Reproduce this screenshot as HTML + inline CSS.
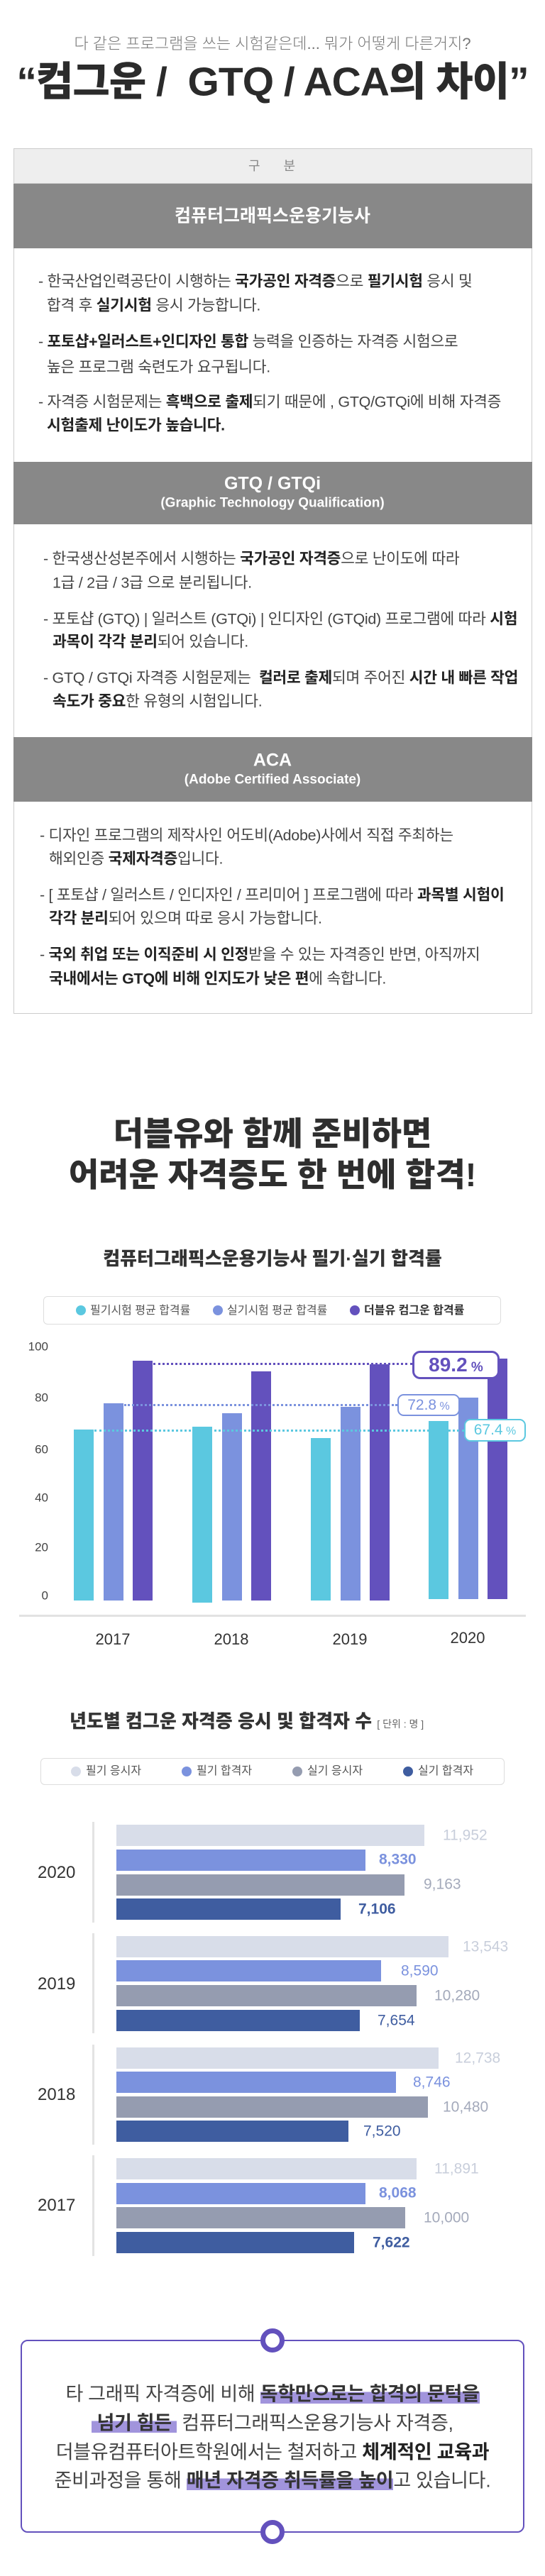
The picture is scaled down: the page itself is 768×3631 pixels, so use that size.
<!DOCTYPE html>
<html><head><meta charset="utf-8">
<style>
*{margin:0;padding:0;box-sizing:border-box}
body{width:768px;height:3631px;position:relative;background:#fff;font-family:"Liberation Sans","Noto Sans CJK KR",sans-serif;color:#333;overflow:hidden}
.a{position:absolute}
.t{position:absolute;white-space:nowrap;line-height:1;transform:translateY(-50%)}
.c{left:0;width:768px;text-align:center}
.b{font-weight:700;color:#222}
.bt{font-size:21.5px;color:#444;letter-spacing:-0.3px}
.n{font-family:"Liberation Sans Narrow","Liberation Sans","Noto Sans CJK KR",sans-serif}
.row{position:absolute;left:19px;width:731px;background:#888;color:#fff;text-align:center}
.bar{position:absolute}
.dot{position:absolute;width:14px;height:14px;border-radius:50%}
.hl{background:linear-gradient(to bottom,transparent 40%,#a194dc 40%,#a194dc 95%,transparent 95%)}
</style></head><body>

<div class="t c" style="top:62px;font-size:22px;color:#777;font-weight:300">다 같은 프로그램을 쓰는 시험같은데... 뭐가 어떻게 다른거지?</div>
<div class="t c" style="top:116px;font-size:57px;font-weight:900;color:#2b2b2b;letter-spacing:-1px;white-space:pre">“컴그운 /  GTQ / ACA의 차이”</div>

<!-- table -->
<div class="a" style="left:19px;top:209px;width:731px;height:1220px;border:1px solid #ccc;background:#fff"></div>
<div class="a" style="left:20px;top:210px;width:729px;height:49px;background:#eee;border-bottom:1px solid #ccc"></div>
<div class="t" style="top:234px;left:350px;font-size:18px;color:#888;word-spacing:28px">구 분</div>

<div class="row" style="top:259px;height:91px"></div>
<div class="t c" style="top:305px;font-size:25px;font-weight:700;color:#fff">컴퓨터그래픽스운용기능사</div>

<div class="t bt" style="left:54px;top:397px">- 한국산업인력공단이 시행하는 <b class="b">국가공인 자격증</b>으로 <b class="b">필기시험</b> 응시 및</div>
<div class="t bt" style="left:66px;top:431px">합격 후 <b class="b">실기시험</b> 응시 가능합니다.</div>
<div class="t bt" style="left:54px;top:482px">- <b class="b">포토샵+일러스트+인디자인 통합</b> 능력을 인증하는 자격증 시험으로</div>
<div class="t bt" style="left:66px;top:518px">높은 프로그램 숙련도가 요구됩니다.</div>
<div class="t bt" style="left:54px;top:567px">- 자격증 시험문제는 <b class="b">흑백으로 출제</b>되기 때문에 , GTQ/GTQi에 비해 자격증</div>
<div class="t bt" style="left:66px;top:600px"><b class="b">시험출제 난이도가 높습니다.</b></div>

<div class="row" style="top:651px;height:88px"></div>
<div class="t c" style="top:682px;font-size:25px;font-weight:700;color:#fff">GTQ / GTQi</div>
<div class="t c" style="top:709px;font-size:19px;font-weight:700;color:#fff">(Graphic Technology Qualification)</div>

<div class="t bt" style="left:61px;top:788px">- 한국생산성본주에서 시행하는 <b class="b">국가공인 자격증</b>으로 난이도에 따라</div>
<div class="t bt" style="left:74px;top:822px">1급 / 2급 / 3급 으로 분리됩니다.</div>
<div class="t bt" style="left:61px;top:873px">- 포토샵 (GTQ) | 일러스트 (GTQi) | 인디자인 (GTQid) 프로그램에 따라 <b class="b">시험</b></div>
<div class="t bt" style="left:74px;top:905px"><b class="b">과목이 각각 분리</b>되어 있습니다.</div>
<div class="t bt" style="left:61px;top:956px">- GTQ / GTQi 자격증 시험문제는 &nbsp;<b class="b">컬러로 출제</b>되며 주어진 <b class="b">시간 내 빠른 작업</b></div>
<div class="t bt" style="left:74px;top:989px"><b class="b">속도가 중요</b>한 유형의 시험입니다.</div>

<div class="row" style="top:1039px;height:91px"></div>
<div class="t c" style="top:1072px;font-size:25px;font-weight:700;color:#fff">ACA</div>
<div class="t c" style="top:1099px;font-size:19px;font-weight:700;color:#fff">(Adobe Certified Associate)</div>

<div class="t bt" style="left:56px;top:1178px">- 디자인 프로그램의 제작사인 어도비(Adobe)사에서 직접 주최하는</div>
<div class="t bt" style="left:69px;top:1211px">해외인증 <b class="b">국제자격증</b>입니다.</div>
<div class="t bt" style="left:56px;top:1262px">- [ 포토샵 / 일러스트 / 인디자인 / 프리미어 ] 프로그램에 따라 <b class="b">과목별 시험이</b></div>
<div class="t bt" style="left:69px;top:1295px"><b class="b">각각 분리</b>되어 있으며 따로 응시 가능합니다.</div>
<div class="t bt" style="left:56px;top:1346px">- <b class="b">국외 취업 또는 이직준비 시 인정</b>받을 수 있는 자격증인 반면, 아직까지</div>
<div class="t bt" style="left:69px;top:1380px"><b class="b">국내에서는 GTQ에 비해 인지도가 낮은 편</b>에 속합니다.</div>

<!-- headline -->
<div class="t c" style="top:1598px;font-size:46px;font-weight:900;color:#2e2e2e">더블유와 함께 준비하면</div>
<div class="t c" style="top:1656px;font-size:46px;font-weight:900;color:#2e2e2e">어려운 자격증도 한 번에 합격!</div>

<!-- chart 1 -->
<div class="t c" style="top:1774px;font-size:26px;font-weight:900;color:#333">컴퓨터그래픽스운용기능사 필기·실기 합격률</div>
<div class="a" style="left:61px;top:1827px;width:645px;height:40px;border:1px solid #ddd;border-radius:6px"></div>
<div class="dot" style="left:107px;top:1840px;background:#5bc8e0"></div>
<div class="t" style="left:127px;top:1848px;font-size:16px;color:#555">필기시험 평균 합격률</div>
<div class="dot" style="left:300px;top:1840px;background:#7b92de"></div>
<div class="t" style="left:320px;top:1848px;font-size:16px;color:#555">실기시험 평균 합격률</div>
<div class="dot" style="left:493px;top:1840px;background:#6351bd"></div>
<div class="t" style="left:513px;top:1848px;font-size:16px;font-weight:700;color:#333">더블유 컴그운 합격률</div>

<div class="t n" style="left:30px;width:38px;text-align:right;top:1898px;font-size:17px;color:#444">100</div>
<div class="t n" style="left:30px;width:38px;text-align:right;top:1970px;font-size:17px;color:#444">80</div>
<div class="t n" style="left:30px;width:38px;text-align:right;top:2043px;font-size:17px;color:#444">60</div>
<div class="t n" style="left:30px;width:38px;text-align:right;top:2111px;font-size:17px;color:#444">40</div>
<div class="t n" style="left:30px;width:38px;text-align:right;top:2181px;font-size:17px;color:#444">20</div>
<div class="t n" style="left:30px;width:38px;text-align:right;top:2249px;font-size:17px;color:#444">0</div>

<div class="bar" style="left:104px;top:2015px;width:28px;height:241px;background:#5bc8e0"></div>
<div class="bar" style="left:146px;top:1978px;width:28px;height:278px;background:#7b92de"></div>
<div class="bar" style="left:187px;top:1918px;width:28px;height:338px;background:#6351bd"></div>
<div class="bar" style="left:271px;top:2011px;width:28px;height:248px;background:#5bc8e0"></div>
<div class="bar" style="left:313px;top:1992px;width:28px;height:264px;background:#7b92de"></div>
<div class="bar" style="left:354px;top:1933px;width:28px;height:323px;background:#6351bd"></div>
<div class="bar" style="left:438px;top:2027px;width:28px;height:229px;background:#5bc8e0"></div>
<div class="bar" style="left:480px;top:1983px;width:28px;height:273px;background:#7b92de"></div>
<div class="bar" style="left:521px;top:1923px;width:28px;height:333px;background:#6351bd"></div>
<div class="bar" style="left:604px;top:2003px;width:28px;height:251px;background:#5bc8e0"></div>
<div class="bar" style="left:646px;top:1970px;width:28px;height:284px;background:#7b92de"></div>
<div class="bar" style="left:687px;top:1915px;width:28px;height:339px;background:#6351bd"></div>

<div class="a" style="left:216px;top:1921px;width:365px;border-top:3px dotted #6351bd"></div>
<div class="a" style="left:175px;top:1979px;width:385px;border-top:3px dotted #7b92de"></div>
<div class="a" style="left:133px;top:2015px;width:521px;border-top:3px dotted #5bc8e0"></div>

<div class="a" style="left:581px;top:1904px;width:123px;height:40px;border:3px solid #6351bd;border-radius:11px;background:#fff;text-align:center;line-height:34px;color:#6351bd;font-weight:700;font-size:28px" ><span class="n">89.2</span><span style="font-size:19px"> %</span></div>
<div class="a" style="left:560px;top:1965px;width:88px;height:31px;border:2px solid #7b92de;border-radius:9px;background:#fff;text-align:center;line-height:27px;color:#7b92de;font-size:21px"><span class="n">72.8</span><span style="font-size:16px"> %</span></div>
<div class="a" style="left:654px;top:2000px;width:87px;height:32px;border:2px solid #5bc8e0;border-radius:9px;background:#fff;text-align:center;line-height:28px;color:#5bc8e0;font-size:21px"><span class="n">67.4</span><span style="font-size:16px"> %</span></div>

<div class="a" style="left:27px;top:2276px;width:714px;height:3px;background:#e2e2e2"></div>
<div class="t n" style="left:119px;width:80px;text-align:center;top:2311px;font-size:22px;color:#333">2017</div>
<div class="t n" style="left:286px;width:80px;text-align:center;top:2311px;font-size:22px;color:#333">2018</div>
<div class="t n" style="left:453px;width:80px;text-align:center;top:2311px;font-size:22px;color:#333">2019</div>
<div class="t n" style="left:619px;width:80px;text-align:center;top:2309px;font-size:22px;color:#333">2020</div>

<!-- chart 2 -->
<div class="t" style="left:98px;top:2426px;font-size:26px;font-weight:900;color:#333">년도별 컴그운 자격증 응시 및 합격자 수 <span style="font-size:14px;font-weight:400;color:#666">[ 단위 : 명 ]</span></div>
<div class="a" style="left:57px;top:2478px;width:654px;height:38px;border:1px solid #ddd;border-radius:6px"></div>
<div class="dot" style="left:100px;top:2490px;background:#d8dde9"></div>
<div class="t" style="left:121px;top:2497px;font-size:16px;color:#555">필기 응시자</div>
<div class="dot" style="left:256px;top:2490px;background:#7b92de"></div>
<div class="t" style="left:277px;top:2497px;font-size:16px;color:#555">필기 합격자</div>
<div class="dot" style="left:412px;top:2490px;background:#959cb0"></div>
<div class="t" style="left:433px;top:2497px;font-size:16px;color:#555">실기 응시자</div>
<div class="dot" style="left:568px;top:2490px;background:#3f5da0"></div>
<div class="t" style="left:589px;top:2497px;font-size:16px;color:#555">실기 합격자</div>

<!-- 2020 -->
<div class="a" style="left:130px;top:2568px;width:3px;height:142px;background:#e3e3e3"></div>
<div class="t n" style="left:53px;top:2640px;font-size:24px;color:#333">2020</div>
<div class="bar" style="left:164px;top:2572px;width:434px;height:30px;background:#d8dde9"></div>
<div class="bar" style="left:164px;top:2607px;width:351px;height:30px;background:#7b92de"></div>
<div class="bar" style="left:164px;top:2642px;width:406px;height:30px;background:#959cb0"></div>
<div class="bar" style="left:164px;top:2676px;width:316px;height:30px;background:#3f5da0"></div>
<div class="t n" style="left:624px;top:2587px;font-size:21px;color:#c8cedb">11,952</div>
<div class="t n" style="left:534px;top:2621px;font-size:21px;color:#7b92de;font-weight:700">8,330</div>
<div class="t n" style="left:597px;top:2656px;font-size:21px;color:#a4aabb">9,163</div>
<div class="t n" style="left:505px;top:2691px;font-size:21px;color:#3f5da0;font-weight:700">7,106</div>

<!-- 2019 -->
<div class="a" style="left:130px;top:2725px;width:3px;height:141px;background:#e3e3e3"></div>
<div class="t n" style="left:53px;top:2797px;font-size:24px;color:#333">2019</div>
<div class="bar" style="left:164px;top:2729px;width:468px;height:30px;background:#d8dde9"></div>
<div class="bar" style="left:164px;top:2763px;width:373px;height:30px;background:#7b92de"></div>
<div class="bar" style="left:164px;top:2798px;width:423px;height:30px;background:#959cb0"></div>
<div class="bar" style="left:164px;top:2833px;width:343px;height:30px;background:#3f5da0"></div>
<div class="t n" style="left:652px;top:2744px;font-size:21px;color:#c8cedb">13,543</div>
<div class="t n" style="left:565px;top:2778px;font-size:21px;color:#7b92de">8,590</div>
<div class="t n" style="left:612px;top:2813px;font-size:21px;color:#a4aabb">10,280</div>
<div class="t n" style="left:532px;top:2848px;font-size:21px;color:#3f5da0">7,654</div>

<!-- 2018 -->
<div class="a" style="left:130px;top:2882px;width:3px;height:141px;background:#e3e3e3"></div>
<div class="t n" style="left:53px;top:2953px;font-size:24px;color:#333">2018</div>
<div class="bar" style="left:164px;top:2886px;width:454px;height:30px;background:#d8dde9"></div>
<div class="bar" style="left:164px;top:2920px;width:394px;height:30px;background:#7b92de"></div>
<div class="bar" style="left:164px;top:2955px;width:439px;height:30px;background:#959cb0"></div>
<div class="bar" style="left:164px;top:2989px;width:327px;height:30px;background:#3f5da0"></div>
<div class="t n" style="left:641px;top:2901px;font-size:21px;color:#c8cedb">12,738</div>
<div class="t n" style="left:582px;top:2935px;font-size:21px;color:#7b92de">8,746</div>
<div class="t n" style="left:624px;top:2970px;font-size:21px;color:#a4aabb">10,480</div>
<div class="t n" style="left:512px;top:3004px;font-size:21px;color:#3f5da0">7,520</div>

<!-- 2017 -->
<div class="a" style="left:130px;top:3038px;width:3px;height:142px;background:#e3e3e3"></div>
<div class="t n" style="left:53px;top:3109px;font-size:24px;color:#333">2017</div>
<div class="bar" style="left:164px;top:3042px;width:423px;height:30px;background:#d8dde9"></div>
<div class="bar" style="left:164px;top:3077px;width:351px;height:30px;background:#7b92de"></div>
<div class="bar" style="left:164px;top:3111px;width:407px;height:30px;background:#959cb0"></div>
<div class="bar" style="left:164px;top:3146px;width:335px;height:30px;background:#3f5da0"></div>
<div class="t n" style="left:612px;top:3057px;font-size:21px;color:#c8cedb">11,891</div>
<div class="t n" style="left:534px;top:3091px;font-size:21px;color:#7b92de;font-weight:700">8,068</div>
<div class="t n" style="left:597px;top:3126px;font-size:21px;color:#a4aabb">10,000</div>
<div class="t n" style="left:525px;top:3161px;font-size:21px;color:#3f5da0;font-weight:700">7,622</div>

<!-- bottom box -->
<div class="a" style="left:29px;top:3298px;width:710px;height:272px;border:2px solid #6351bd;border-radius:10px"></div>
<div class="a" style="left:367px;top:3282px;width:34px;height:34px;border:7px solid #6351bd;border-radius:50%;background:#fff"></div>
<div class="a" style="left:367px;top:3552px;width:34px;height:34px;border:7px solid #6351bd;border-radius:50%;background:#fff"></div>

<div class="t c" style="top:3375px;font-size:27px;color:#444;letter-spacing:-0.3px">타 그래픽 자격증에 비해 <span class="hl b" style="color:#333">독학만으로는 합격의 문턱을</span></div>
<div class="t c" style="top:3416px;font-size:27px;color:#444;letter-spacing:-0.3px"><span class="hl b" style="color:#333">&nbsp;넘기 힘든&nbsp;</span> 컴퓨터그래픽스운용기능사 자격증,</div>
<div class="t c" style="top:3457px;font-size:27px;color:#444;letter-spacing:-0.3px">더블유컴퓨터아트학원에서는 철저하고 <b class="b">체계적인 교육과</b></div>
<div class="t c" style="top:3497px;font-size:27px;color:#444;letter-spacing:-0.3px">준비과정을 통해 <span class="hl b" style="color:#333">매년 자격증 취득률을 높이</span>고 있습니다.</div>

</body></html>
